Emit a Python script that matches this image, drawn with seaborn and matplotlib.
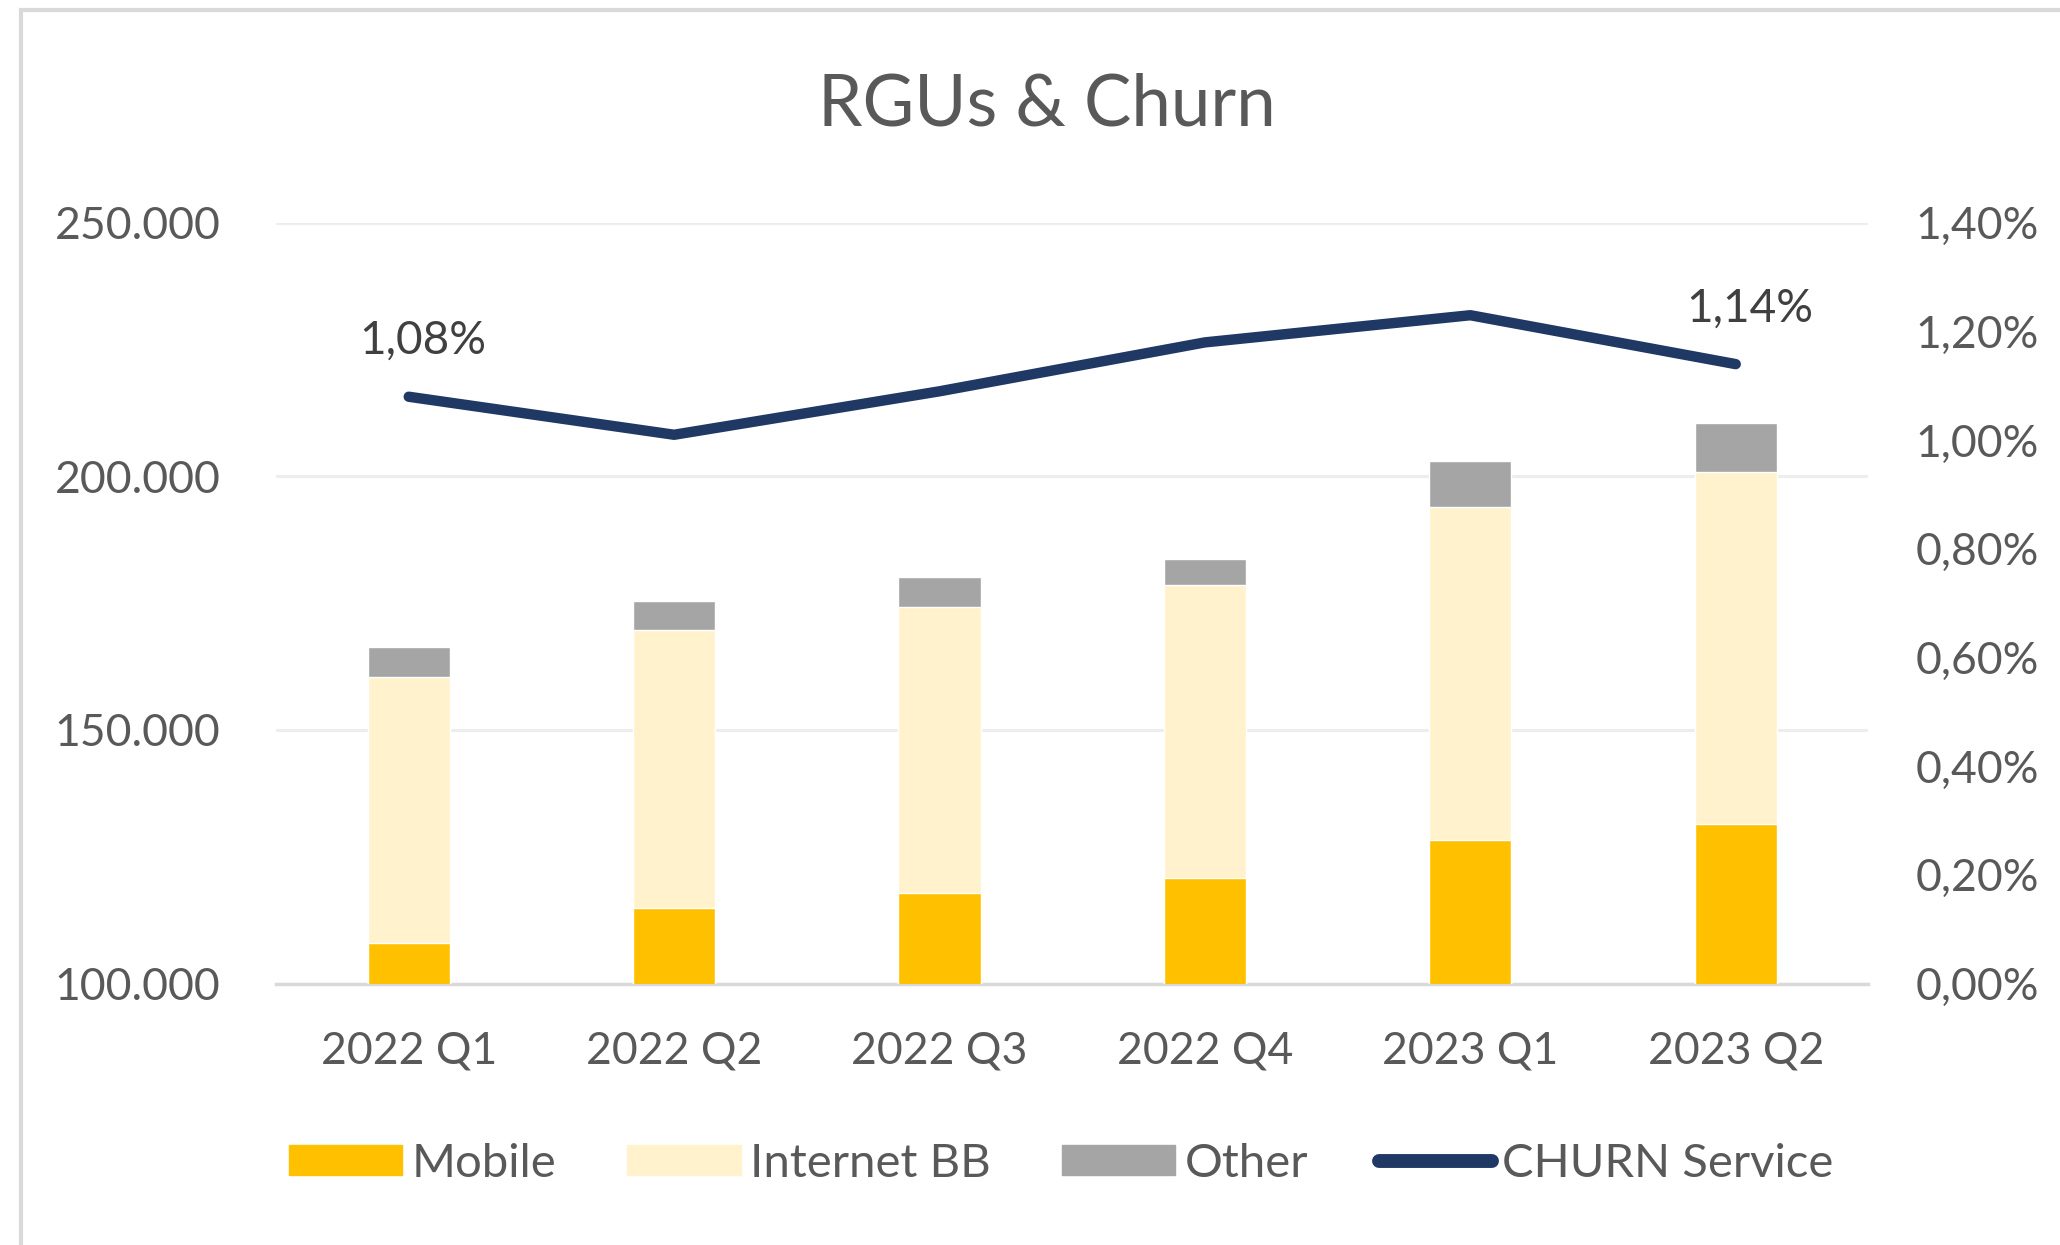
import numpy as np
import pandas as pd
import matplotlib.pyplot as plt
import matplotlib.ticker as mticker
from matplotlib.patches import Patch, Rectangle
from matplotlib.lines import Line2D
import seaborn as sns

# =============================================
# data
quarters = ['2022 Q1', '2022 Q2', '2022 Q3', '2022 Q4', '2023 Q1', '2023 Q2']
mobile = [108000, 114800, 117900, 120800, 128300, 131400]
internet_bb = [52400, 55000, 56300, 57800, 65600, 69500]
other = [6000, 5700, 6000, 5200, 9100, 9600]
churn = [1.08, 1.01, 1.09, 1.18, 1.23, 1.14]  # in %
churn_labels = {0: '1,08%', 5: '1,14%'}

# =============================================
# style
c_mobile = '#FFC000'
c_internet = '#FFF2CC'
c_other = '#A5A5A5'
c_churn = '#1F3864'
c_text = '#595959'

sns.set_theme(style='white')
plt.rcParams['font.family'] = ['Lato', 'DejaVu Sans']
tickFontSize = 32

df = pd.DataFrame({'quarter': quarters, 'mobile': mobile,
                   'internet': internet_bb, 'other': other})
df['mob_top'] = df['mobile']
df['int_top'] = df['mobile'] + df['internet']
df['oth_top'] = df['int_top'] + df['other']

fig = plt.figure(figsize=(20.6, 12.45), dpi=100)
ax = fig.add_axes([0.134, 0.210, 0.773, 0.611])

# stacked bars: draw cumulative tops back to front
for col, color in [('oth_top', c_other), ('int_top', c_internet), ('mob_top', c_mobile)]:
    sns.barplot(data=df, x='quarter', y=col, color=color, width=0.31,
                saturation=1, ax=ax, zorder=3)

ax.set_ylim(100000, 250000)
ax.set_xlim(-0.5, 5.5)
ax.set_yticks([100000, 150000, 200000, 250000])
ax.yaxis.set_major_formatter(mticker.FuncFormatter(lambda v, p: f'{int(v):,}'.replace(',', '.')))
ax.set_xlabel('')
ax.set_ylabel('')
ax.grid(axis='y', color='#EDEDED', lw=2.2, zorder=0)
for s in ['top', 'right', 'left']:
    ax.spines[s].set_visible(False)
ax.spines['bottom'].set_color('#D9D9D9')
ax.spines['bottom'].set_linewidth(2.5)
ax.tick_params(axis='both', length=0, labelsize=tickFontSize, labelcolor=c_text)
ax.tick_params(axis='y', pad=40)
ax.tick_params(axis='x', pad=34)

# churn line on secondary axis
ax2 = ax.twinx()
xpos = np.arange(len(quarters))
sns.lineplot(x=xpos, y=churn, color=c_churn, lw=7.5, ax=ax2,
             solid_capstyle='round', solid_joinstyle='round', zorder=5)
ax2.set_ylim(0, 1.4)
ax2.set_yticks(np.arange(0, 1.41, 0.2))
ax2.yaxis.set_major_formatter(mticker.FuncFormatter(lambda v, p: f'{v:.2f}'.replace('.', ',') + '%'))
ax2.set_xlim(-0.5, 5.5)
for s in ax2.spines.values():
    s.set_visible(False)
ax2.tick_params(axis='y', length=0, labelsize=tickFontSize, labelcolor=c_text, pad=34)
ax2.set_ylabel('')

for i, lab in churn_labels.items():
    ax2.annotate(lab, (xpos[i], churn[i]), xytext=(10, 40), textcoords='offset points',
                 ha='center', va='center', fontsize=33, color='#404040')

# title
fig.text(0.508, 0.916, 'RGUs & Churn', ha='center', va='center', fontsize=51, color=c_text)

# legend
h = [Patch(color=c_mobile), Patch(color=c_internet), Patch(color=c_other),
     Line2D([], [], color=c_churn, lw=10, solid_capstyle='round')]
l = ['Mobile', 'Internet BB', 'Other', 'CHURN Service']
leg = fig.legend(h, l, loc='center', bbox_to_anchor=(0.515, 0.065), ncol=4, frameon=False,
                 fontsize=34, handlelength=2.4, handleheight=0.6,
                 handletextpad=0.2, columnspacing=1.5)
for t in leg.get_texts():
    t.set_color(c_text)

# outer chart border
fig.patches.append(Rectangle((0.0102, -0.1), 1.2, 1.092, transform=fig.transFigure,
                             fill=False, edgecolor='#D9D9D9', lw=3))

fig.savefig('out.png', dpi=100)
